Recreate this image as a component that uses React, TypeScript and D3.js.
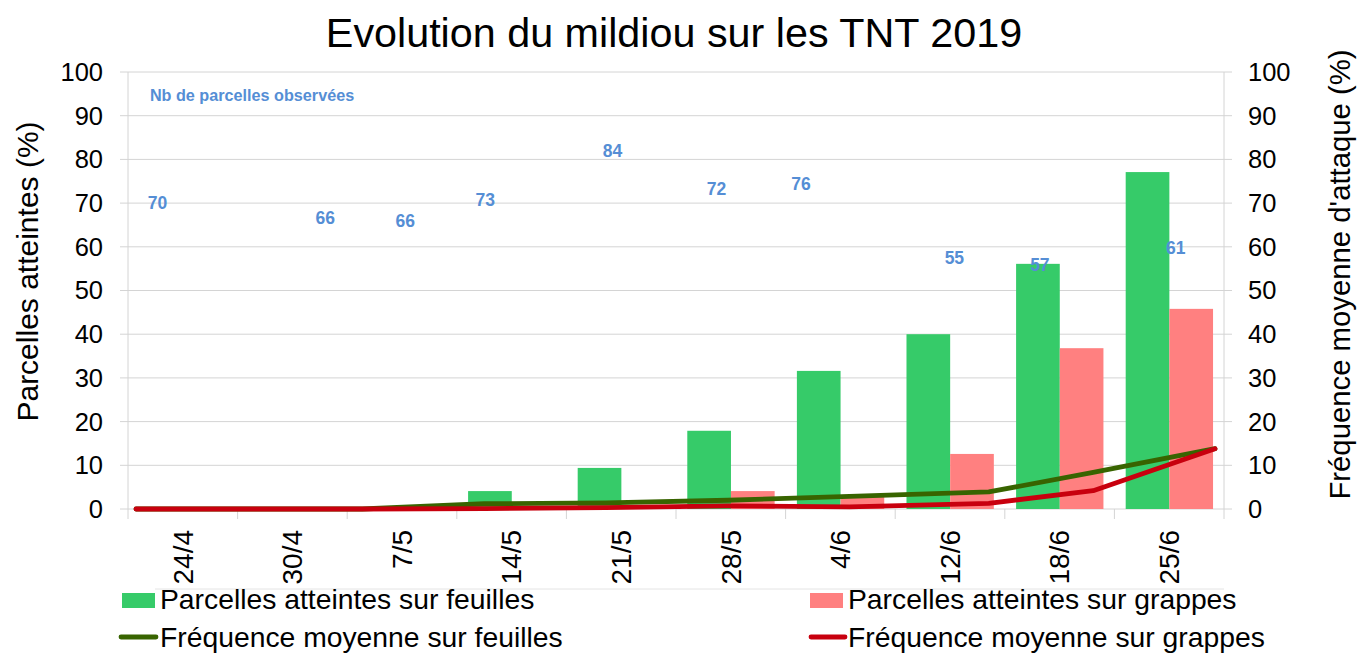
import React from "react";
import * as d3 from "d3";

// Dates of observation (2019)
const DATES = ["24/4", "30/4", "7/5", "14/5", "21/5", "28/5", "4/6", "12/6", "18/6", "25/6"];

// Parcelles atteintes (%) — primary axis bars
const LEAF_PLOTS = [0, 0, 0, 4.1, 9.4, 17.9, 31.6, 40.0, 56.1, 77.1];
const BUNCH_PLOTS = [0, 0, 0, 0, 0, 4.1, 3.0, 12.6, 36.8, 45.8];

// Fréquence moyenne d'attaque (%) — secondary axis lines
const LEAF_FREQ = [0, 0, 0, 1.2, 1.4, 2.0, 2.9, 3.9, 8.4, 13.8];
const BUNCH_FREQ = [0, 0, 0, 0.1, 0.3, 0.7, 0.5, 1.3, 4.2, 13.8];

// Nb de parcelles observées (annotation text boxes)
const OBS_COUNTS = [70, 66, 66, 73, 84, 72, 76, 55, 57, 61];
const OBS_POS_X = [0.27, 1.8, 2.53, 3.26, 4.42, 5.37, 6.14, 7.54, 8.32, 9.56]; // in category units
const OBS_POS_Y = [70.0, 66.6, 65.9, 70.7, 81.9, 73.2, 74.4, 57.4, 55.8, 59.7];

const Y_TICKS = [0, 10, 20, 30, 40, 50, 60, 70, 80, 90, 100];

const W = 1359;
const H = 654;
const M = { left: 128, right: 1224, top: 72, bottom: 509 };

const GREEN = "#36CB69";
const PINK = "#FF8080";
const DARK_GREEN = "#386400";
const RED = "#C8000E";
const BLUE = "#558ED5";
const GRID = "#D4D4D4";
const FONT = "'Liberation Sans', Arial, sans-serif";

function parseDate(s: string) {
  const [d, m] = s.split("/").map(Number);
  return new Date(2019, m - 1, d);
}

export default function App() {
  const x0 = d3.scaleBand<string>().domain(DATES).range([M.left, M.right]).padding(0);
  const cw = x0.bandwidth();
  const x1 = d3
    .scaleBand<string>()
    .domain(["feuilles", "grappes"])
    .range([cw * 0.103, cw * 0.9])
    .padding(0);
  const y = d3.scaleLinear().domain([0, 100]).range([M.bottom, M.top]);
  const catX = d3.scaleLinear().domain([0, DATES.length]).range([M.left, M.right]);

  // line series are on a date axis
  const dates = DATES.map(parseDate);
  const xt = d3
    .scaleTime()
    .domain([dates[0], dates[dates.length - 1]])
    .range([M.left + 8, M.right - 9]);

  const line = d3
    .line<number>()
    .x((_, i) => xt(dates[i]))
    .y((v) => y(v));

  const legendRow1 = 609;
  const legendRow2 = 647;

  return (
    <div style={{ position: "absolute", left: 0, top: 0 }}>
      <svg width={W} height={H} style={{ display: "block", background: "#fff" }} fontFamily={FONT}>
        <text x={674} y={47} textAnchor="middle" fontSize={41.3} fill="#000">
          Evolution du mildiou sur les TNT 2019
        </text>

        {/* gridlines */}
        {Y_TICKS.map((t) => (
          <line key={t} x1={M.left - 8} x2={M.right + 8} y1={y(t)} y2={y(t)} stroke={GRID} strokeWidth={1} />
        ))}
        <line x1={M.left} x2={M.left} y1={M.top} y2={M.bottom + 10} stroke={GRID} />
        <line x1={M.right} x2={M.right} y1={M.top} y2={M.bottom + 10} stroke={GRID} />
        {DATES.map((d, i) =>
          i === 0 ? null : (
            <line key={d} x1={x0(d)} x2={x0(d)} y1={M.bottom} y2={M.bottom + 10} stroke={GRID} />
          )
        )}
        <line x1={M.left + 27} x2={M.right} y1={589} y2={589} stroke="#E4E4E4" />

        {/* bars */}
        {DATES.map((d, i) => (
          <g key={d} transform={`translate(${x0(d)},0)`}>
            <rect
              x={x1("feuilles")}
              y={y(LEAF_PLOTS[i])}
              width={x1.bandwidth()}
              height={y(0) - y(LEAF_PLOTS[i])}
              fill={GREEN}
            />
            <rect
              x={x1("grappes")}
              y={y(BUNCH_PLOTS[i])}
              width={x1.bandwidth()}
              height={y(0) - y(BUNCH_PLOTS[i])}
              fill={PINK}
            />
          </g>
        ))}

        {/* lines */}
        <path d={line(LEAF_FREQ) ?? ""} fill="none" stroke={DARK_GREEN} strokeWidth={4.8} strokeLinejoin="round" strokeLinecap="round" />
        <path d={line(BUNCH_FREQ) ?? ""} fill="none" stroke={RED} strokeWidth={4.8} strokeLinejoin="round" strokeLinecap="round" />

        {/* observed plot counts */}
        <text x={catX(0.2)} y={y(94.7)} dy="0.35em" fontSize={16.2} fontWeight={700} fill={BLUE}>
          Nb de parcelles observées
        </text>
        {OBS_COUNTS.map((n, i) => (
          <text
            key={i}
            x={catX(OBS_POS_X[i])}
            y={y(OBS_POS_Y[i])}
            dy="0.35em"
            textAnchor="middle"
            fontSize={17.5}
            fontWeight={700}
            fill={BLUE}
          >
            {n}
          </text>
        ))}

        {/* y axes */}
        {Y_TICKS.map((t) => (
          <text key={`l${t}`} x={103} y={y(t)} dy="0.35em" textAnchor="end" fontSize={25.5} fill="#000">
            {t}
          </text>
        ))}
        {Y_TICKS.map((t) => (
          <text key={`r${t}`} x={1248} y={y(t)} dy="0.35em" textAnchor="start" fontSize={25.5} fill="#000">
            {t}
          </text>
        ))}
        <text
          transform={`translate(27,${(M.top + M.bottom) / 2 - 19}) rotate(-90)`}
          dy="0.35em"
          textAnchor="middle"
          fontSize={30}
          fill="#000"
        >
          Parcelles atteintes (%)
        </text>
        <text
          transform={`translate(1340,${(M.top + M.bottom) / 2 - 16}) rotate(-90)`}
          dy="0.35em"
          textAnchor="middle"
          fontSize={29.3}
          fill="#000"
        >
          Fréquence moyenne d'attaque (%)
        </text>

        {/* x labels */}
        {DATES.map((d) => (
          <text
            key={d}
            transform={`translate(${(x0(d) ?? 0) + cw / 2},530) rotate(-90)`}
            dy="0.35em"
            textAnchor="end"
            fontSize={28}
            fill="#000"
          >
            {d}
          </text>
        ))}

        {/* legend */}
        <rect x={122} y={593} width={33} height={15} fill={GREEN} />
        <text x={160} y={legendRow1} fontSize={28.3} fill="#000">
          Parcelles atteintes sur feuilles
        </text>
        <rect x={810} y={593} width={33} height={15} fill={PINK} />
        <text x={848} y={legendRow1} fontSize={28.3} fill="#000">
          Parcelles atteintes sur grappes
        </text>
        <line x1={121} x2={156} y1={637} y2={637} stroke={DARK_GREEN} strokeWidth={4.8} strokeLinecap="round" />
        <text x={160} y={legendRow2} fontSize={28.3} fill="#000">
          Fréquence moyenne sur feuilles
        </text>
        <line x1={811} x2={845} y1={637} y2={637} stroke={RED} strokeWidth={4.8} strokeLinecap="round" />
        <text x={848} y={legendRow2} fontSize={28.3} fill="#000">
          Fréquence moyenne sur grappes
        </text>
      </svg>
    </div>
  );
}
